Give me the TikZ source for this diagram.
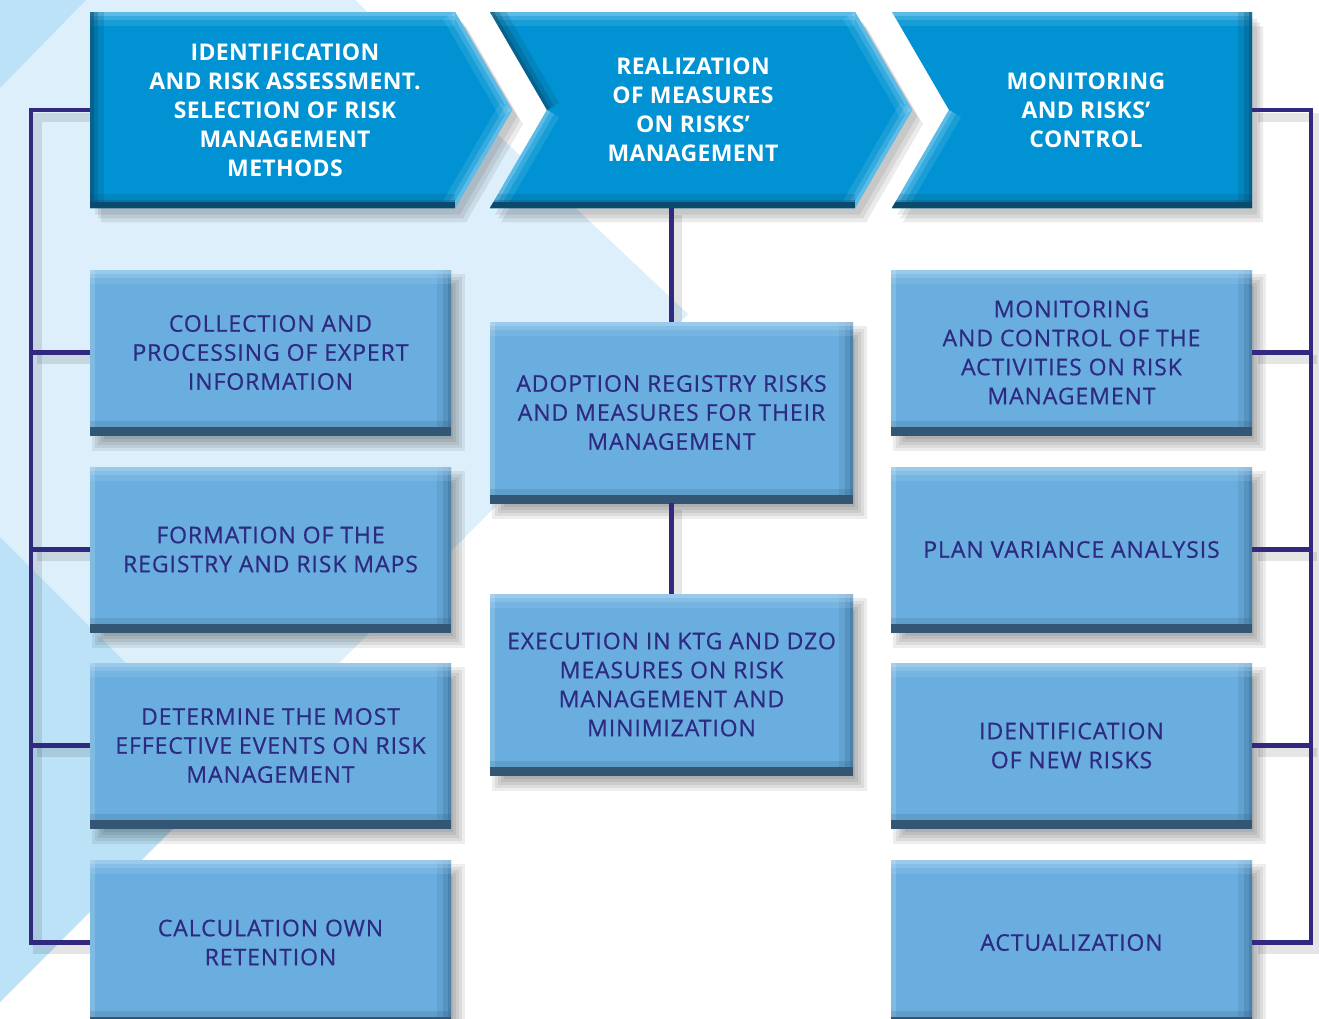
\documentclass[tikz,border=0pt]{standalone}
\usepackage{fontspec}
\setmainfont{Open Sans}
\newfontfamily\boxfont{Open Sans}[LetterSpace=4,FakeBold=0.6]
\newfontfamily\chevfont{Open Sans}[LetterSpace=1.5]
\usetikzlibrary{calc}
\definecolor{bglight}{HTML}{DDEFFB}
\definecolor{bgdark}{HTML}{BCE2F7}
\definecolor{chev}{HTML}{0092D2}
\definecolor{chevdk}{HTML}{0A4A6C}
\definecolor{chevhi}{HTML}{8AD2F2}
\definecolor{boxc}{HTML}{69AEDF}
\definecolor{boxdk}{HTML}{335675}
\definecolor{boxrt}{HTML}{3E6F94}
\definecolor{boxhi}{HTML}{B2D8F2}
\definecolor{navy}{HTML}{2E2A82}
\definecolor{connc}{HTML}{31297F}
\pgfdeclarelayer{bglayer}
\pgfdeclarelayer{shadowlayer}
\pgfsetlayers{bglayer,shadowlayer,main}
\newcommand\bevedge[3]{%
  \draw[#1, line width=28pt, opacity=.18] #2 -- #3;
  \draw[#1, line width=16pt, opacity=.28] #2 -- #3;
  \draw[#1, line width=7pt, opacity=.45] #2 -- #3;}
\newcommand\boxshadow[1]{%
  \foreach \d in {-6,-3,0,3,6}{%
    \fill[black, opacity=.07] ($(#1.north west)+({8+\d},{10+\d})$) rectangle ($(#1.south east)+({8-\d},{10-\d})$);}}
\begin{document}
\begin{tikzpicture}[x=1pt, y=-1pt,
  subbox/.style={rectangle, fill=boxc, text=navy, inner sep=0pt,
    minimum width=361pt, minimum height=165pt, align=center,
    font=\boxfont\fontsize{23}{29}\selectfont,
    path picture={
      \bevedge{boxrt}{(path picture bounding box.north east)}{(path picture bounding box.south east)}
      \bevedge{boxhi}{(path picture bounding box.north west)}{(path picture bounding box.north east)}
      \draw[white, opacity=.15, line width=10pt] (path picture bounding box.north west) -- (path picture bounding box.south west);
      \draw[boxdk, line width=16pt] (path picture bounding box.south west) -- (path picture bounding box.south east);
      \bevedge{boxdk}{(path picture bounding box.south west)}{(path picture bounding box.south east)}
    }},
  midbox/.style={subbox, minimum width=363pt, minimum height=181pt},
  chevtext/.style={rectangle, inner sep=0pt, minimum height=196pt, text=white,
    align=center, font=\chevfont\bfseries\fontsize{23}{29}\selectfont},
  conn/.style={draw=connc, line width=4.5pt},
  connshadow/.style={draw=black, opacity=.10, line width=9pt}
]
\useasboundingbox (0,0) rectangle (1319,1018);

% ---------- background ----------
\begin{pgfonlayer}{bglayer}
  \fill[white] (0,0) rectangle (1319,1018);
  \fill[bglight] (0,0) -- (355,0) -- (688,314) -- (0,1002) -- cycle;
  \fill[bgdark] (0,0) -- (86,0) -- (0,88) -- cycle;
  \fill[bgdark] (0,537) -- (232,769) -- (0,1002) -- cycle;
\end{pgfonlayer}

% ---------- chevron shadows ----------
\begin{pgfonlayer}{shadowlayer}
  \foreach \s in {5,8,11}{
    \begin{scope}[shift={(\s,{\s*1.3})}]
      \fill[black, opacity=.08] (90,12) -- (455,12) -- (512,110) -- (455,208) -- (90,208) -- cycle;
      \fill[black, opacity=.08] (490,12) -- (855,12) -- (912,110) -- (855,208) -- (490,208) -- (547,110) -- cycle;
      \fill[black, opacity=.08] (892,12) -- (1252,12) -- (1252,208) -- (892,208) -- (949,110) -- cycle;
    \end{scope}}
\end{pgfonlayer}

% ---------- chevrons ----------
\fill[chev] (90,12) -- (455,12) -- (512,110) -- (455,208) -- (90,208) -- cycle;
\begin{scope}
  \clip (90,12) -- (455,12) -- (512,110) -- (455,208) -- (90,208) -- cycle;
  \bevedge{chevhi}{(455,12)}{(512,110)}
  \bevedge{chevhi}{(512,110)}{(455,208)}
  \bevedge{chevhi}{(90,12)}{(455,12)}
  \bevedge{chevdk}{(90,12)}{(90,208)}
  \draw[chevdk, line width=12pt] (90,208) -- (455,208);
  \bevedge{chevdk}{(90,208)}{(455,208)}
\end{scope}

\fill[chev] (490,12) -- (855,12) -- (912,110) -- (855,208) -- (490,208) -- (547,110) -- cycle;
\begin{scope}
  \clip (490,12) -- (855,12) -- (912,110) -- (855,208) -- (490,208) -- (547,110) -- cycle;
  \bevedge{chevhi}{(855,12)}{(912,110)}
  \bevedge{chevhi}{(912,110)}{(855,208)}
  \bevedge{chevhi}{(490,12)}{(855,12)}
  \bevedge{chevdk}{(490,12)}{(547,110)}
  \bevedge{chevhi}{(547,110)}{(490,208)}
  \draw[chevdk, line width=12pt] (490,208) -- (855,208);
  \bevedge{chevdk}{(490,208)}{(855,208)}
\end{scope}

\fill[chev] (892,12) -- (1252,12) -- (1252,208) -- (892,208) -- (949,110) -- cycle;
\begin{scope}
  \clip (892,12) -- (1252,12) -- (1252,208) -- (892,208) -- (949,110) -- cycle;
  \bevedge{chevhi}{(892,12)}{(1252,12)}
  \bevedge{chevhi}{(949,110)}{(892,208)}
  \bevedge{chevdk}{(1252,12)}{(1252,208)}
  \draw[chevdk, line width=12pt] (892,208) -- (1252,208);
  \bevedge{chevdk}{(892,208)}{(1252,208)}
\end{scope}

\node[chevtext, minimum width=390pt] (c1) at (285,110)
  {IDENTIFICATION\\AND RISK ASSESSMENT.\\SELECTION OF RISK\\MANAGEMENT\\METHODS};
\node[chevtext, minimum width=406pt] (c2) at (693,110)
  {REALIZATION\\OF MEASURES\\ON RISKS’\\MANAGEMENT};
\node[chevtext, minimum width=332pt] (c3) at (1086,110)
  {MONITORING\\AND RISKS’\\CONTROL};

% ---------- boxes ----------
\node[subbox] (L1) at (270.5,352.5) {COLLECTION AND\\PROCESSING OF EXPERT\\INFORMATION};
\node[subbox] (L2) at (270.5,549.5) {FORMATION OF THE\\REGISTRY AND RISK MAPS};
\node[subbox] (L3) at (270.5,745.5) {DETERMINE THE MOST\\EFFECTIVE EVENTS ON RISK\\MANAGEMENT};
\node[subbox] (L4) at (270.5,942.5) {CALCULATION OWN\\RETENTION};

\node[midbox] (M1) at (671.5,412.5) {ADOPTION REGISTRY RISKS\\AND MEASURES FOR THEIR\\MANAGEMENT};
\node[midbox] (M2) at (671.5,684.5) {EXECUTION IN KTG AND DZO\\MEASURES ON RISK\\MANAGEMENT AND\\MINIMIZATION};

\node[subbox] (R1) at (1071.5,352.5) {MONITORING\\AND CONTROL OF THE\\ACTIVITIES ON RISK\\MANAGEMENT};
\node[subbox] (R2) at (1071.5,549.5) {PLAN VARIANCE ANALYSIS};
\node[subbox] (R3) at (1071.5,745.5) {IDENTIFICATION\\OF NEW RISKS};
\node[subbox] (R4) at (1071.5,942.5) {ACTUALIZATION};

\begin{pgfonlayer}{shadowlayer}
  \foreach \n in {L1,L2,L3,L4,M1,M2,R1,R2,R3,R4}{\boxshadow{\n}}
\end{pgfonlayer}

% ---------- connectors ----------
\coordinate (lt) at (31,110);
\coordinate (lb) at (31,942.5);
\coordinate (rt) at (1311,110);
\coordinate (rb) at (1311,942.5);

\begin{pgfonlayer}{shadowlayer}
  \begin{scope}[transform canvas={shift={(6pt,-7pt)}}]
    \draw[connshadow] (c1.west) -- (lt) -- (lb) -- (L4.west);
    \draw[connshadow] (c3.east) -- (rt) -- (rb) -- (R4.east);
    \foreach \n in {L1,L2,L3}{\draw[connshadow] (\n.west) -- (\n.west -| lt);}
    \foreach \n in {R1,R2,R3}{\draw[connshadow] (\n.east) -- (\n.east -| rt);}
    \draw[connshadow] (M1.north |- c2.south) -- (M1.north);
    \draw[connshadow] (M1.south) -- (M2.north);
  \end{scope}
\end{pgfonlayer}

\draw[conn] (c1.west) -- (lt) -- (lb) -- (L4.west);
\draw[conn] (c3.east) -- (rt) -- (rb) -- (R4.east);
\foreach \n in {L1,L2,L3}{\draw[conn] (\n.west) -- (\n.west -| lt);}
\foreach \n in {R1,R2,R3}{\draw[conn] (\n.east) -- (\n.east -| rt);}
\draw[conn] (M1.north |- c2.south) -- (M1.north);
\draw[conn] (M1.south) -- (M2.north);
\end{tikzpicture}
\end{document}
